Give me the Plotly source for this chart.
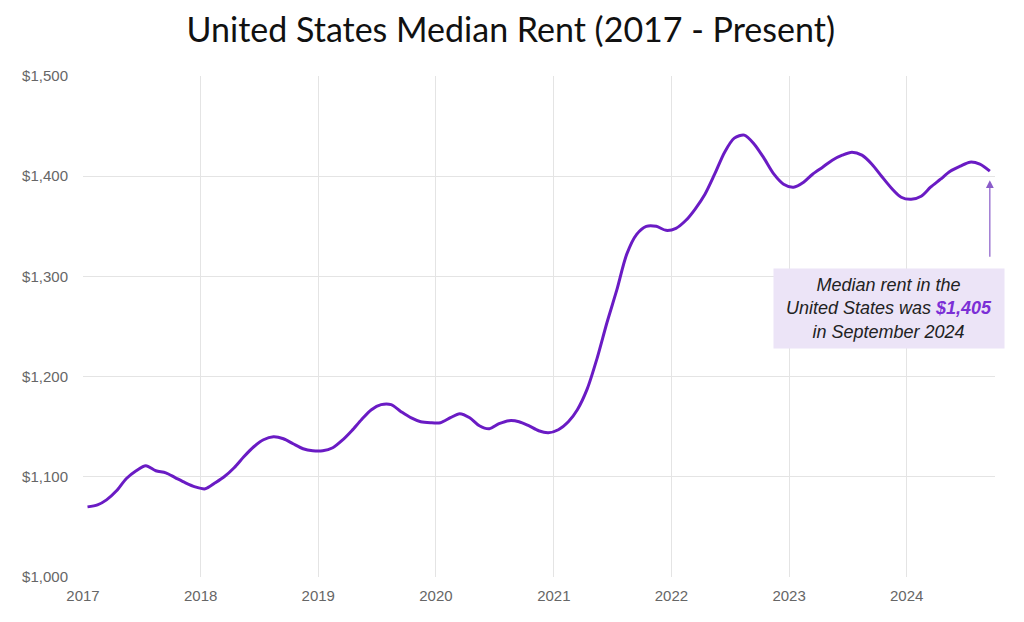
import pandas as pd
import plotly.graph_objects as go

# monthly median rent, Jan 2017 - Sep 2024
rent_2017 = [1070, 1072, 1077, 1086, 1098, 1106, 1111, 1106, 1104, 1099, 1094, 1090]
rent_2018 = [1088, 1094, 1100, 1109, 1120, 1130, 1137, 1140, 1138, 1133, 1128, 1126]
rent_2019 = [1126, 1129, 1136, 1146, 1157, 1167, 1172, 1172, 1165, 1159, 1155, 1154]
rent_2020 = [1154, 1159, 1163, 1159, 1151, 1148, 1153, 1156, 1155, 1151, 1146, 1144]
rent_2021 = [1147, 1155, 1167, 1188, 1218, 1254, 1286, 1322, 1342, 1350, 1350, 1346]
rent_2022 = [1348, 1356, 1367, 1382, 1402, 1424, 1438, 1441, 1432, 1418, 1402, 1392]
rent_2023 = [1389, 1394, 1402, 1409, 1416, 1421, 1424, 1421, 1412, 1400, 1388, 1379]
rent_2024 = [1377, 1380, 1389, 1397, 1405, 1410, 1414, 1412, 1405]

rent = rent_2017 + rent_2018 + rent_2019 + rent_2020 + rent_2021 + rent_2022 + rent_2023 + rent_2024
# mid-month dates
months = pd.date_range("2017-01-01", periods=len(rent), freq="MS") + pd.Timedelta(days=14)
months = [d.strftime("%Y-%m-%d") for d in months]

year_ticks = [str(y) for y in range(2017, 2025)]
y_ticks = [1000, 1100, 1200, 1300, 1400, 1500]
y_labels = ["$1,000", "$1,100", "$1,200", "$1,300", "$1,400", "$1,500"]

last_x = months[-1]
last_y = rent[-1]

fig = go.Figure()
fig.add_trace(go.Scatter(
    x=months, y=rent, mode="lines",
    line=dict(color="#6a1bc4", width=3, shape="spline", smoothing=0.8),
    hoverinfo="skip", showlegend=False,
))

# arrow pointing at the last value
fig.add_annotation(
    x=last_x, y=last_y - 9, ax=last_x, ay=1318,
    xref="x", yref="y", axref="x", ayref="y",
    text="", showarrow=True, arrowhead=2, arrowsize=1.3, arrowwidth=1.2,
    arrowcolor="#8a5cc9",
)
# callout box
fig.add_annotation(
    x="2023-11-06", y=1268, xref="x", yref="y",
    text="<i>Median rent in the<br>United States was <b><span style='color:#7b2fd6'>$1,405</span></b><br>in September 2024</i>",
    showarrow=False, align="center",
    font=dict(family="Liberation Sans, Arial, sans-serif", size=18, color="#222222"),
    bgcolor="#ece4f7", borderpad=6, width=218,
)

# page body has an 8px offset, so margins are trimmed by 8 on left/top
fig.update_layout(
    width=1024, height=622,
    paper_bgcolor="white", plot_bgcolor="white",
    margin=dict(l=75, r=37, t=68, b=53),
    title=dict(
        text="United States Median Rent (2017 - Present)",
        x=0.491, xanchor="center", y=0.964, yanchor="middle",
        font=dict(family="Lato, Open Sans, sans-serif", size=34, color="#111111"),
    ),
    xaxis=dict(
        type="date", range=["2017-01-01", "2024-10-01"], automargin=False,
        tickvals=[f"{y}-01-01" for y in year_ticks], ticktext=year_ticks,
        showgrid=True, gridcolor="#e4e4e4", gridwidth=1,
        zeroline=False, showline=False, ticks="", ticklabelstandoff=8,
        tickfont=dict(family="Liberation Sans, Arial, sans-serif", size=15, color="#666666"),
    ),
    yaxis=dict(
        range=[1000, 1500], tickvals=y_ticks, ticktext=y_labels, automargin=False,
        showgrid=True, gridcolor="#e4e4e4", gridwidth=1,
        zeroline=False, showline=False, ticks="", ticklabelstandoff=14,
        tickfont=dict(family="Liberation Sans, Arial, sans-serif", size=15, color="#666666"),
    ),
)

fig.write_html("out.html")
